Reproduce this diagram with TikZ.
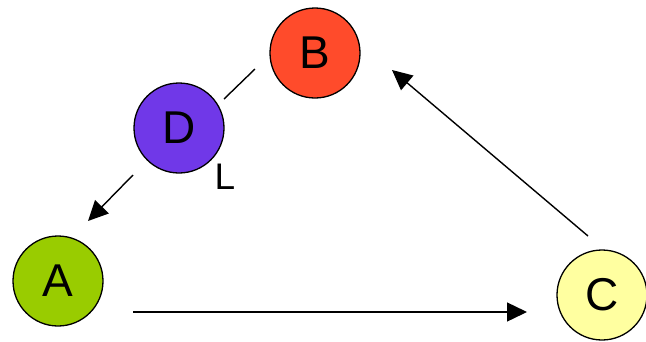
\documentclass[tikz,border=0pt]{standalone}
\usepackage{fontspec}
\setmainfont{Liberation Sans}
\usetikzlibrary{arrows.meta}
\definecolor{cB}{HTML}{FF4B2B}
\definecolor{cD}{HTML}{7038E8}
\definecolor{cA}{HTML}{99CC00}
\definecolor{cC}{HTML}{FFFFA0}
\begin{document}
\begin{tikzpicture}[x=1pt,y=-1pt,
  vert/.style={circle,draw=black,line width=1.3pt,minimum size=90pt,inner sep=0pt,font=\fontsize{46}{46}\selectfont},
  conn/.style={line width=1.4pt},
  arr/.style={conn,-{Triangle[length=20pt,width=19pt]}}]
\useasboundingbox (0,0) rectangle (646,341);
\node[vert,fill=cB] (B) at (315,53) {B};
\node[vert,fill=cD] (D) at (179,128) {D};
\node[vert,fill=cA] (A) at (58,281) {A};
\node[vert,fill=cC] (C) at (602,295) {C};
\node[font=\fontsize{37}{37}\selectfont] (L) at (225,177) {L};
\coordinate (d1) at (224,99);
\coordinate (b1) at (255,69);
\coordinate (d2) at (133,175);
\coordinate (a1) at (88,221);
\coordinate (a2) at (133,312);
\coordinate (c1) at (527,312);
\coordinate (c2) at (588,236);
\coordinate (b2) at (392,70);
\draw[conn] (d1) -- (b1);
\draw[arr] (d2) -- (a1);
\draw[arr] (a2) -- (c1);
\draw[arr] (c2) -- (b2);
\end{tikzpicture}
\end{document}
